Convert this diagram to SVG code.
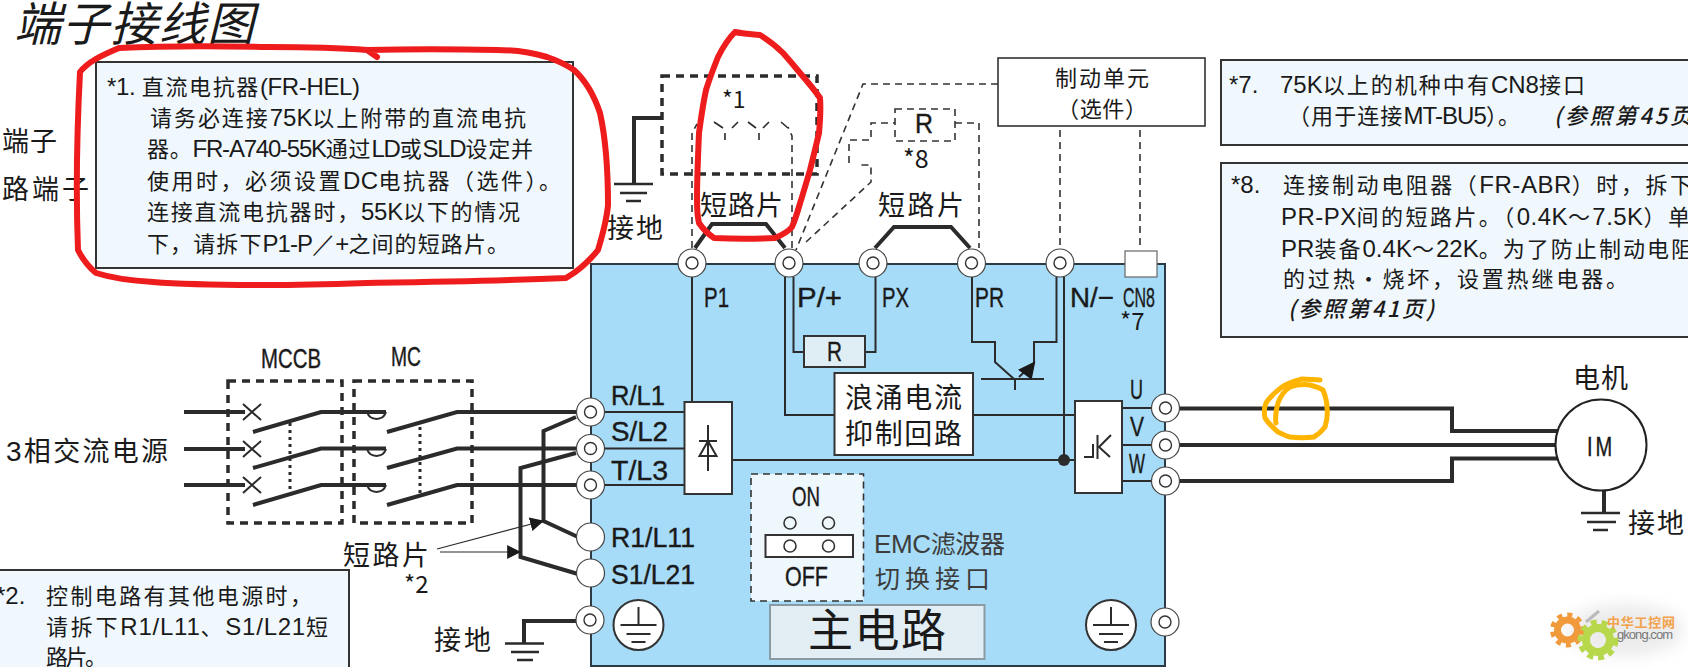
<svg xmlns="http://www.w3.org/2000/svg" width="1688" height="667" viewBox="0 0 1688 667">
<style>
text{font-family:"Noto Sans CJK SC","Liberation Sans",sans-serif;fill:#1a1a1a}
.s27{font-size:27px}
.note{font-size:22px;letter-spacing:2px}
.l{font-family:"Liberation Sans",sans-serif;font-size:24px;letter-spacing:0}
.lab{font-family:"Liberation Sans",sans-serif;font-size:28px;stroke:#1a1a1a;stroke-width:.4}
.it{font-style:italic}
.box{fill:#f0f8fd;stroke:#333;stroke-width:2}
.w{fill:#fff;stroke:#333;stroke-width:2}
.th{fill:none;stroke:#2b2b2b;stroke-width:2}
.tk{fill:none;stroke:#2b2b2b;stroke-width:4}
.g{fill:none;stroke:#2b2b2b;stroke-width:2.500}
.dt{fill:none;stroke:#333;stroke-width:1.6;stroke-dasharray:7 5}
.dk{fill:none;stroke:#2b2b2b;stroke-width:3.5;stroke-dasharray:8 6}
.dot{fill:none;stroke:#2b2b2b;stroke-width:3;stroke-dasharray:3 4}
.tm{fill:#fff;stroke:#444;stroke-width:1.2}
.tmi{fill:#fff;stroke:#333;stroke-width:1.4}
.red{fill:none;stroke:#ee1c1c;stroke-width:6;stroke-linecap:round;stroke-linejoin:round}
.or{fill:none;stroke:#ffb400;stroke-width:5;stroke-linecap:round;stroke-linejoin:round}
</style>
<defs>
<marker id="arr" viewBox="0 0 12 12" refX="11" refY="6" markerWidth="14" markerHeight="14" markerUnits="userSpaceOnUse" orient="auto"><path d="M0 0L12 6L0 12Z" fill="#1a1a1a"/></marker>
<filter id="blur" x="-30%" y="-30%" width="160%" height="160%"><feGaussianBlur stdDeviation="8"/></filter>
<g id="tmr"><circle r="14" class="tm"/><circle r="6" class="tmi"/></g>
<g id="gsym"><ellipse rx="25" ry="25" class="w"/><path class="th" d="M0-18V-1M-18 0H18M-12 9H12M-7 17H7"/></g>
</defs>

<g id="title"><text x="14" y="41" font-size="47" class="it" textLength="240">端子接线图</text></g>
<g id="frag"><text x="2" y="151" class="s27" textLength="55">端子</text><text x="2" y="199" class="s27" textLength="87">路端子</text></g>

<g id="main-box"><rect x="591" y="264" width="574" height="402" fill="#a7dcf9" stroke="#2b3a44" stroke-width="2"/></g>

<g id="connectors">
<path class="tk" d="M184 412H245M184 449H245M184 485H245"/>
<path class="th" d="M243 404L261 420M261 404L243 420M243 441L261 457M261 441L243 457M243 477L261 493M261 477L243 493"/>
<path class="tk" d="M253 432L321 412H386M387 432L457 412H578M253 468L321 448.500H386M387 468L457 448.500H578M253 505L321 485H386M387 505L457 485H578"/>
<path class="th" d="M367 412A10 10 0 0 0 386 412M367 449A10 10 0 0 0 386 449M367 485A10 10 0 0 0 386 485"/>
<path class="dot" d="M290 423V490M420 427V493"/>
<rect class="dk" x="228" y="381" width="114" height="142"/>
<rect class="dk" x="354" y="381" width="118" height="142"/>
<path class="tk" d="M576 417L543.500 431V521L578 537M576 453L520.500 468V557L578 574"/>
<path class="th" style="stroke-width:1.2" d="M437 549L543 521" marker-end="url(#arr)"/>
<path class="th" style="stroke-width:1.2" d="M440 552H520" marker-end="url(#arr)"/>
<path class="tk" d="M576 621H524V643"/><path class="g" d="M505 643.500H544M511 652H539M517 660H533"/>
<rect class="dk" x="662" y="76" width="155" height="98"/>
<path class="tk" d="M662 118H634V184"/><path class="g" d="M614 184H653M620 193H647M626 201H641"/>
<path class="th" style="stroke-width:1.6" d="M714 122L723 128M738 122L732 128M748 122L756 128M769 122L763 128M781 122L788 128M725 133V140M759 133V140"/>
<path class="dt" d="M692 248V133L697 124M792 248V136L788 127"/>
<path class="tk" d="M695 248L712 224H766L785 248M875 248L894 227H951L970 248"/>
<path class="dt" d="M998 84H863L796 250M806 242L871 182V165H859M849 163V140H871V123H895M955 123H979V248M1060 130V248M1140 130V250"/>
<rect class="dt" x="895" y="109" width="60" height="32"/>
<path class="th" d="M692 277V402M785 277V415H835M793.500 277V352H804M865 352H875.500V277M972 277V342H995V362L1014 379M981 379H1044M1015 379V390M1019 377L1034 363V342H1056.500V277M1064 277V460M973 415H1075M732 460H1075M578 412H685M578 448.500H685M578 485H685M1122 408H1152M1122 445H1152M1122 481H1152"/>
<path d="M1020 370L1034 363L1031 378Z" fill="#1a1a1a" stroke="#1a1a1a" stroke-width="2"/>
<circle cx="1064" cy="460" r="6" fill="#2b2b2b"/>
<path class="tk" d="M1180 408.500H1452V431H1558M1180 445H1556M1180 481H1452V458.500H1558M1604 491V513"/><path class="g" d="M1581 513H1620M1587 522H1616M1593 530H1608"/>
</g>

<g id="note1"><rect class="box" x="96" y="62" width="477" height="206"/>
<text class="note" x="107" y="95" textLength="253"><tspan class="l">*1.</tspan> 直流电抗器<tspan class="l">(FR-HEL)</tspan></text>
<text class="note" x="150" y="126" textLength="378">请务必连接<tspan class="l">75K</tspan>以上附带的直流电抗</text>
<text class="note" x="147" y="157" textLength="388">器。<tspan class="l">FR-A740-55K</tspan>通过<tspan class="l">LD</tspan>或<tspan class="l">SLD</tspan>设定并</text>
<text class="note" x="147" y="189" textLength="416">使用时，必须设置<tspan class="l">DC</tspan>电抗器（选件）。</text>
<text class="note" x="147" y="220" textLength="375">连接直流电抗器时，<tspan class="l">55K</tspan>以下的情况</text>
<text class="note" x="147" y="252" textLength="364">下，请拆下<tspan class="l">P1-P／+</tspan>之间的短路片。</text>
</g>
<g id="note2"><rect class="box" x="-3" y="570" width="352" height="100"/>
<text class="note" x="-4" y="604"><tspan class="l">*2.</tspan></text>
<text class="note" x="46" y="604" textLength="268">控制电路有其他电源时，</text>
<text class="note" x="46" y="635" textLength="284">请拆下<tspan class="l">R1/L11</tspan>、<tspan class="l">S1/L21</tspan>短</text>
<text class="note" x="46" y="665" textLength="63">路片。</text>
</g>
<g id="note7"><rect class="box" x="1221" y="60" width="470" height="85"/>
<text class="note" x="1229" y="93"><tspan class="l">*7.</tspan></text>
<text class="note" x="1280" y="93" textLength="307"><tspan class="l">75K</tspan>以上的机种中有<tspan class="l">CN8</tspan>接口</text>
<text class="note" x="1288" y="124" textLength="234">（用于连接<tspan class="l">MT-BU5</tspan>）。</text>
<text class="note it" x="1554" y="124" textLength="140" font-weight="500">(参照第45页</text>
</g>
<g id="note8"><rect class="box" x="1221" y="163" width="470" height="174"/>
<text class="note" x="1231" y="193"><tspan class="l">*8.</tspan></text>
<text class="note" x="1283" y="193" textLength="411">连接制动电阻器（<tspan class="l">FR-ABR</tspan>）时，拆下</text>
<text class="note" x="1281" y="225" textLength="411"><tspan class="l">PR-PX</tspan>间的短路片。（<tspan class="l">0.4K</tspan>～<tspan class="l">7.5K</tspan>）单</text>
<text class="note" x="1281" y="257" textLength="414"><tspan class="l">PR</tspan>装备<tspan class="l">0.4K</tspan>～<tspan class="l">22K</tspan>。为了防止制动电阻</text>
<text class="note" x="1283" y="287" textLength="347">的过热・烧坏，设置热继电器。</text>
<text class="note it" x="1288" y="317" textLength="148" font-weight="500">(参照第41页)</text>
</g>

<g id="brake-unit"><rect x="998" y="58" width="207" height="68" fill="#fff" stroke="#333" stroke-width="1.6"/>
<text x="1055" y="86" font-size="22" textLength="94">制动单元</text><text x="1057" y="117" font-size="22" textLength="90">（选件）</text></g>

<g id="top-labels">
<text x="722" y="108" font-size="23">*1</text><text x="903" y="168" font-size="25">*8</text>
<text x="915" y="133" class="lab" textLength="18" lengthAdjust="spacingAndGlyphs">R</text>
<text x="700" y="215" class="s27" textLength="83">短路片</text><text x="878" y="215" class="s27" textLength="86">短路片</text>
<text x="607" y="238" class="s27" textLength="56">接地</text>
</g>

<g id="terminals-top">
<use href="#tmr" x="692" y="263"/><use href="#tmr" x="789" y="263"/><use href="#tmr" x="873" y="263"/><use href="#tmr" x="971.500" y="263"/><use href="#tmr" x="1060" y="263"/>
<rect x="1125" y="251" width="32" height="26" fill="#fff" stroke="#666" stroke-width="1.2"/>
</g>
<g id="terminal-labels">
<text class="lab" x="704" y="307" textLength="25" lengthAdjust="spacingAndGlyphs">P1</text>
<text class="lab" x="797" y="307" textLength="45" lengthAdjust="spacingAndGlyphs">P/+</text>
<text class="lab" x="882" y="307" textLength="27" lengthAdjust="spacingAndGlyphs">PX</text>
<text class="lab" x="975" y="307" textLength="29" lengthAdjust="spacingAndGlyphs">PR</text>
<text class="lab" x="1070" y="307" textLength="44" lengthAdjust="spacingAndGlyphs">N/−</text>
<text class="lab" x="1123" y="307" textLength="32" lengthAdjust="spacingAndGlyphs">CN8</text>
<text x="1120" y="330" font-size="24">*7</text>
<text class="lab" x="611" y="405" textLength="54" lengthAdjust="spacingAndGlyphs">R/L1</text>
<text class="lab" x="611" y="441" textLength="57" lengthAdjust="spacingAndGlyphs">S/L2</text>
<text class="lab" x="611" y="480" textLength="57" lengthAdjust="spacingAndGlyphs">T/L3</text>
<text class="lab" x="611" y="547" textLength="84" lengthAdjust="spacingAndGlyphs">R1/L11</text>
<text class="lab" x="611" y="584" textLength="84" lengthAdjust="spacingAndGlyphs">S1/L21</text>
<text class="lab" x="1130" y="399" textLength="13" lengthAdjust="spacingAndGlyphs">U</text>
<text class="lab" x="1130" y="436" textLength="14" lengthAdjust="spacingAndGlyphs">V</text>
<text class="lab" x="1129" y="473" textLength="16" lengthAdjust="spacingAndGlyphs">W</text>
</g>
<g id="terminals-side">
<use href="#tmr" x="590.500" y="412"/><use href="#tmr" x="590.500" y="448.500"/><use href="#tmr" x="590.500" y="485"/>
<circle cx="590.500" cy="537" r="14" class="tm"/><circle cx="590.500" cy="573" r="14" class="tm"/>
<use href="#tmr" x="590" y="620"/>
<use href="#tmr" x="1165.500" y="408"/><use href="#tmr" x="1165.500" y="445"/><use href="#tmr" x="1165.500" y="481"/><use href="#tmr" x="1165" y="622"/>
</g>

<g id="resistor"><rect x="804" y="336" width="61" height="31" fill="#dfeef5" stroke="#333" stroke-width="2"/><text class="lab" x="827" y="361" textLength="15" lengthAdjust="spacingAndGlyphs">R</text></g>
<g id="surge"><rect class="w" x="834.500" y="373" width="138.500" height="82"/>
<text x="845" y="408" font-size="28" textLength="117">浪涌电流</text><text x="845" y="444" font-size="28" textLength="117">抑制回路</text></g>
<g id="rectifier"><rect class="w" x="684.500" y="402" width="47.500" height="92"/>
<path class="th" d="M708 425V471M699 441H717M699.500 456H716.500L708 441Z"/></g>
<g id="inverter"><rect class="w" x="1075" y="401" width="47" height="92"/>
<path class="th" d="M1084 457H1093V444M1097.500 435V459M1111 435L1099 447L1110 457"/></g>
<g id="emc"><rect x="751" y="474" width="112.500" height="127" fill="#eef7fc" stroke="#333" stroke-width="1.6" stroke-dasharray="7 5"/>
<text class="lab" x="792" y="506" textLength="28" lengthAdjust="spacingAndGlyphs">ON</text>
<text class="lab" x="785" y="586" textLength="43" lengthAdjust="spacingAndGlyphs">OFF</text>
<circle cx="790" cy="523" r="6" fill="none" stroke="#333" stroke-width="1.6"/><circle cx="828.500" cy="523" r="6" fill="none" stroke="#333" stroke-width="1.6"/>
<rect class="w" x="765.500" y="535" width="87.500" height="22"/>
<circle cx="790" cy="546" r="6" fill="none" stroke="#333" stroke-width="1.6"/><circle cx="828.500" cy="546" r="6" fill="none" stroke="#333" stroke-width="1.6"/>
<text x="874" y="553" font-size="25" style="fill:#3c3c3c" textLength="131"><tspan style="font-family:'Liberation Sans',sans-serif;font-size:26px;fill:#3c3c3c">EMC</tspan>滤波器</text>
<text x="875" y="588" font-size="25" style="fill:#3c3c3c" textLength="115">切换接口</text></g>
<g id="main-label"><rect x="770" y="605" width="214.500" height="54" fill="#e2eef4" stroke="#8a9aa4" stroke-width="2"/>
<text x="808" y="647" font-size="45" textLength="138">主电路</text></g>
<g id="earth-left"><use href="#gsym" x="638.500" y="625"/></g>
<g id="earth-right"><use href="#gsym" x="1111" y="625"/></g>

<g id="switch-labels">
<text class="lab" x="261" y="368" textLength="60" lengthAdjust="spacingAndGlyphs">MCCB</text>
<text class="lab" x="391" y="366" textLength="30" lengthAdjust="spacingAndGlyphs">MC</text>
<text x="6" y="461" class="s27" textLength="162"><tspan class="l" style="font-size:28px">3</tspan>相交流电源</text>
<text x="343" y="565" class="s27" textLength="86">短路片</text>
<text x="404" y="593" font-size="24">*2</text>
<text x="434" y="650" class="s27" textLength="57">接地</text>
</g>

<g id="motor"><circle cx="1601" cy="445" r="45.500" fill="#fff" stroke="#222" stroke-width="2"/>
<text class="lab" x="1587" y="456" textLength="28" lengthAdjust="spacingAndGlyphs" style="letter-spacing:4px">IM</text>
<text x="1573" y="388" class="s27" textLength="55">电机</text>
<text x="1628" y="533" class="s27" textLength="56">接地</text></g>

<g id="watermark">
<ellipse cx="1625" cy="630" rx="58" ry="26" fill="#d8d8d8" opacity=".5" filter="url(#blur)"/>
<circle cx="1567.500" cy="630" r="10" fill="none" stroke="#f09a3c" stroke-width="7"/><circle cx="1567.500" cy="630" r="15" fill="none" stroke="#f09a3c" stroke-width="5" stroke-dasharray="5 5"/>
<circle cx="1598" cy="640" r="12" fill="none" stroke="#b6d84a" stroke-width="8"/><circle cx="1598" cy="640" r="18" fill="none" stroke="#b6d84a" stroke-width="5" stroke-dasharray="6 5"/>
<path d="M1586 622L1599 611" stroke="#bbb" stroke-width="3" fill="none"/>
<text x="1607" y="627" font-size="13" font-weight="700" style="fill:#f2a24a" textLength="68">中华工控网</text>
<text x="1617" y="639" font-size="13" style="fill:#777;font-family:'Liberation Sans',sans-serif" textLength="56">gkong.com</text>
</g>

<g id="annotations">
<path class="red" d="M377 57L367 50C330 47 300 47 268 47C220 46 160 46 119 48C100 56 88 62 80 72C77 130 76 200 78 250C84 262 90 268 96 273C115 279 135 281 153 282C190 285 230 285 268 285C300 285 335 284 367 283C430 282 500 281 566 278C580 270 590 260 598 250C604 230 607 217 608 205C608 170 606 140 600 113C594 95 585 80 574 70C565 64 556 60 547 57C530 52 515 50 497 50C450 49 410 49 367 50"/>
<path class="red" d="M735 32C745 34 752 34 760 35C768 40 776 46 783 53C792 63 799 72 806 80C811 86 816 92 820 98C821 110 820 122 819 133C816 146 813 158 810 170C806 184 802 197 798 210C796 217 794 222 792 227C788 232 782 235 775 238C755 239 734 239 714 238C708 234 703 229 699 223C697 215 697 208 697 200C697 178 698 156 699 133C701 118 703 104 706 90C710 77 714 67 718 57C723 47 729 38 735 32Z"/>
<path class="or" d="M1320 380L1302 379C1295 381 1288 383 1282 387C1275 392 1270 397 1266 403C1264 408 1264 413 1265 418C1269 424 1273 428 1278 432C1282 434 1286 436 1290 437C1298 438 1306 438 1314 437C1319 434 1322 431 1325 427C1327 420 1328 414 1327 408C1327 401 1325 395 1323 390C1318 387 1314 386 1310 385C1303 384 1296 385 1290 387C1284 391 1280 397 1278 403C1276 410 1275 417 1276 423"/>
</g>
</svg>
